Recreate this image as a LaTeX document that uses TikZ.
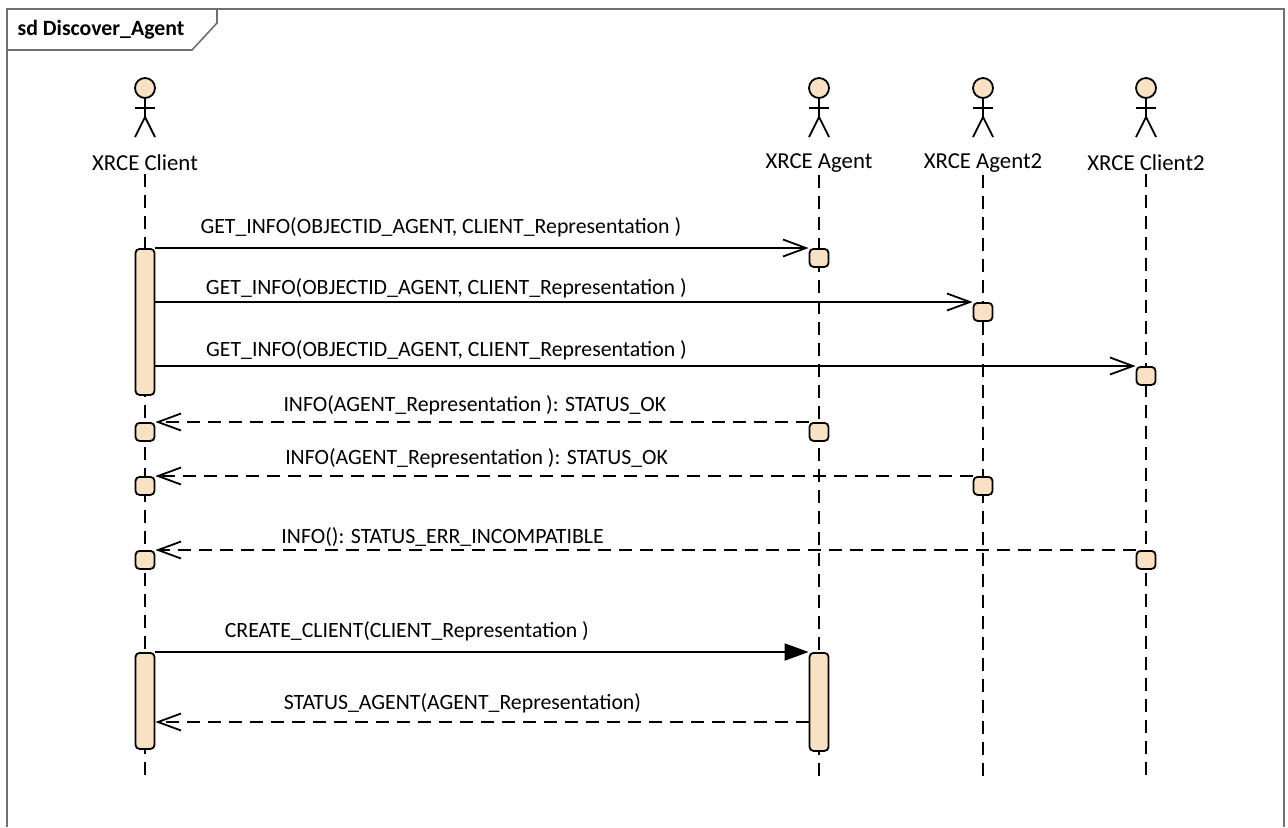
\documentclass[tikz,border=0pt]{standalone}
\usepackage{fontspec}
\setmainfont{Carlito}
\usetikzlibrary{arrows.meta, positioning}
\definecolor{peach}{RGB}{249,226,196}
\definecolor{framegray}{RGB}{112,112,112}

\begin{document}
\begin{tikzpicture}[x=0.5pt, y=-0.5pt, line width=0.9pt, font=\fontsize{10.9pt}{12pt}\selectfont,
    frame/.style={draw=framegray, line width=0.8pt},
    head/.style={circle, draw, fill=peach, minimum size=10pt, inner sep=0pt},
    actor label/.style={inner sep=1pt, font=\fontsize{11.4pt}{12pt}\selectfont},
    lifeline/.style={dash pattern=on 6.5pt off 4pt},
    exec/.style={draw, fill=peach, rounded corners=2pt, minimum width=9.5pt,
                 minimum height=9pt, inner sep=0pt, anchor=north},
    call/.style={-{Straight Barb[length=11.5pt, width=8.5pt]}},
    create/.style={-{Triangle[length=12pt, width=8.5pt]}},
    reply/.style={-{Straight Barb[length=11.5pt, width=8.5pt]}, dash pattern=on 6.5pt off 4pt},
    msg/.style={anchor=base, inner sep=0pt}]

  \useasboundingbox (0,0) rectangle (1288,827);

  % frame and its title tab
  \draw[frame] (7,827) -- (7,9) -- (1284,9) -- (1284,827);
  \draw[frame] (7,50) -- (192,50) -- (217,23) -- (217,9);
  \node[font=\fontsize{10.9pt}{12pt}\bfseries] (title) at (101,30) {sd Discover\_Agent};

  % actors and lifelines
  \foreach \x/\n/\t in {145/client/XRCE Client, 819/agent/XRCE Agent,
                        983/agent2/XRCE Agent2, 1146/client2/XRCE Client2}{
    \node[head] (\n head) at (\x,88) {};
    \draw (\n head.south) -- (\x,117);
    \draw (\x-10,108) -- (\x+10,108);
    \draw (\x-10,137) -- (\x,117) -- (\x+10,137);
    \node[actor label] (\n) at (\x,163) {\t};
    \coordinate (\n end) at (\x,782);
    \draw[lifeline] (\n) -- (\n end);
  }

  % activations
  \node[exec, minimum height=73pt] (client bar1) at (145,248) {};
  \node[exec] (agent box1)   at (819,248) {};
  \node[exec] (agent2 box1)  at (983,302) {};
  \node[exec] (client2 box1) at (1146,366) {};
  \node[exec] (agent box2)   at (819,422) {};
  \node[exec] (client box1)  at (145,422) {};
  \node[exec] (agent2 box2)  at (983,476) {};
  \node[exec] (client box2)  at (145,476) {};
  \node[exec] (client2 box2) at (1146,550) {};
  \node[exec] (client box3)  at (145,550) {};
  \node[exec, minimum height=48pt] (client bar2) at (145,652) {};
  \node[exec, minimum height=49pt] (agent bar)   at (819,652) {};
  \coordinate (status) at (0,722);

  % messages
  \draw[call] (client bar1.north east) --
    node[msg, pos=.437, yshift=7.5pt] (get1) {GET\_INFO(OBJECTID\_AGENT, CLIENT\_Representation )}
    (agent box1.north west);
  \draw[call] (client bar1.east |- agent2 box1.north) --
    node[msg, pos=.356, yshift=4pt] (get2) {GET\_INFO(OBJECTID\_AGENT, CLIENT\_Representation )}
    (agent2 box1.north west);
  \draw[call] (client bar1.east |- client2 box1.north) --
    node[msg, pos=.297, yshift=5pt] (get3) {GET\_INFO(OBJECTID\_AGENT, CLIENT\_Representation )}
    (client2 box1.north west);
  \draw[reply] (agent box2.north west) --
    node[msg, pos=.511, yshift=5.5pt] (info1) {INFO(AGENT\_Representation ): STATUS\_OK}
    (client box1.north east);
  \draw[reply] (agent2 box2.north west) --
    node[msg, pos=.607, yshift=6pt] (info2) {INFO(AGENT\_Representation ): STATUS\_OK}
    (client box2.north east);
  \draw[reply] (client2 box2.north west) --
    node[msg, pos=.707, yshift=3.5pt] (info3) {INFO(): STATUS\_ERR\_INCOMPATIBLE}
    (client box3.north east);
  \draw[create] (client bar2.north east) --
    node[msg, pos=.385, yshift=7.5pt] (create) {CREATE\_CLIENT(CLIENT\_Representation )}
    (agent bar.north west);
  \draw[reply] (agent bar.west |- status) --
    node[msg, pos=.530, yshift=6.5pt] (stat) {STATUS\_AGENT(AGENT\_Representation)}
    (client bar2.east |- status);
\end{tikzpicture}
\end{document}
